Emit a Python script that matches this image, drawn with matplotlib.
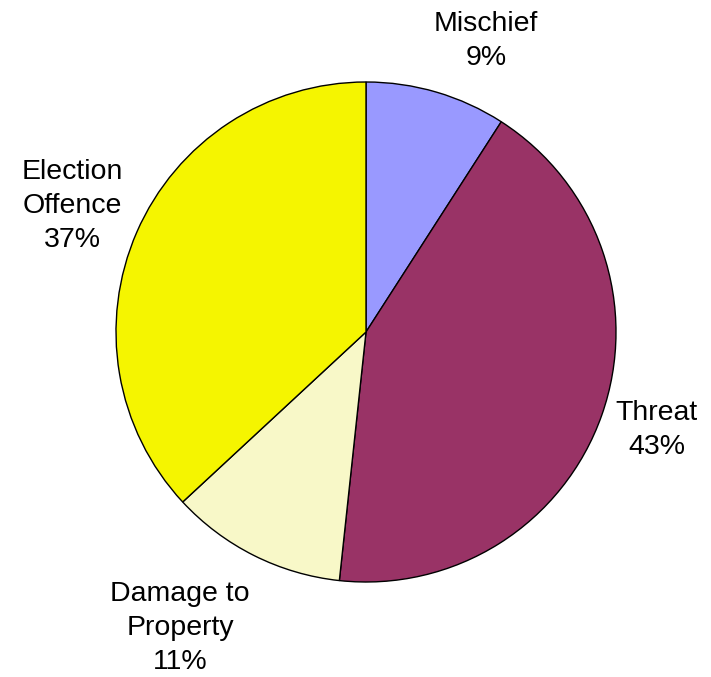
import matplotlib
matplotlib.use("Agg")
import matplotlib.pyplot as plt

categories = ["Mischief", "Threat", "Damage to\nProperty", "Election\nOffence"]
values = [9.1, 42.6, 11.4, 36.9]          # shares
percent_labels = ["9%", "43%", "11%", "37%"]
colors = ["#9999FF", "#993366", "#F8F8C8", "#F5F500"]
label_pos = [(486, 41), (657, 430), (180, 628), (72, 206)]  # pixel centres of labels

W, H = 711, 677
fig = plt.figure(figsize=(W / 100, H / 100), dpi=100)
cx, cy, r = 366, 332, 250
ax = fig.add_axes([(cx - r) / W, 1 - (cy + r) / H, 2 * r / W, 2 * r / H])
ax.pie(values, colors=colors, startangle=90, counterclock=False,
       wedgeprops=dict(edgecolor="black", linewidth=1.0))
ax.set_aspect("auto")
ax.set_xlim(-1, 1)
ax.set_ylim(-1, 1)

for cat, p, (px, py) in zip(categories, percent_labels, label_pos):
    fig.text(px / W, 1 - py / H, f"{cat}\n{p}", ha="center", va="center",
             fontsize=20.5, family="Liberation Sans", linespacing=1.4)

fig.savefig("out.png", dpi=100)
